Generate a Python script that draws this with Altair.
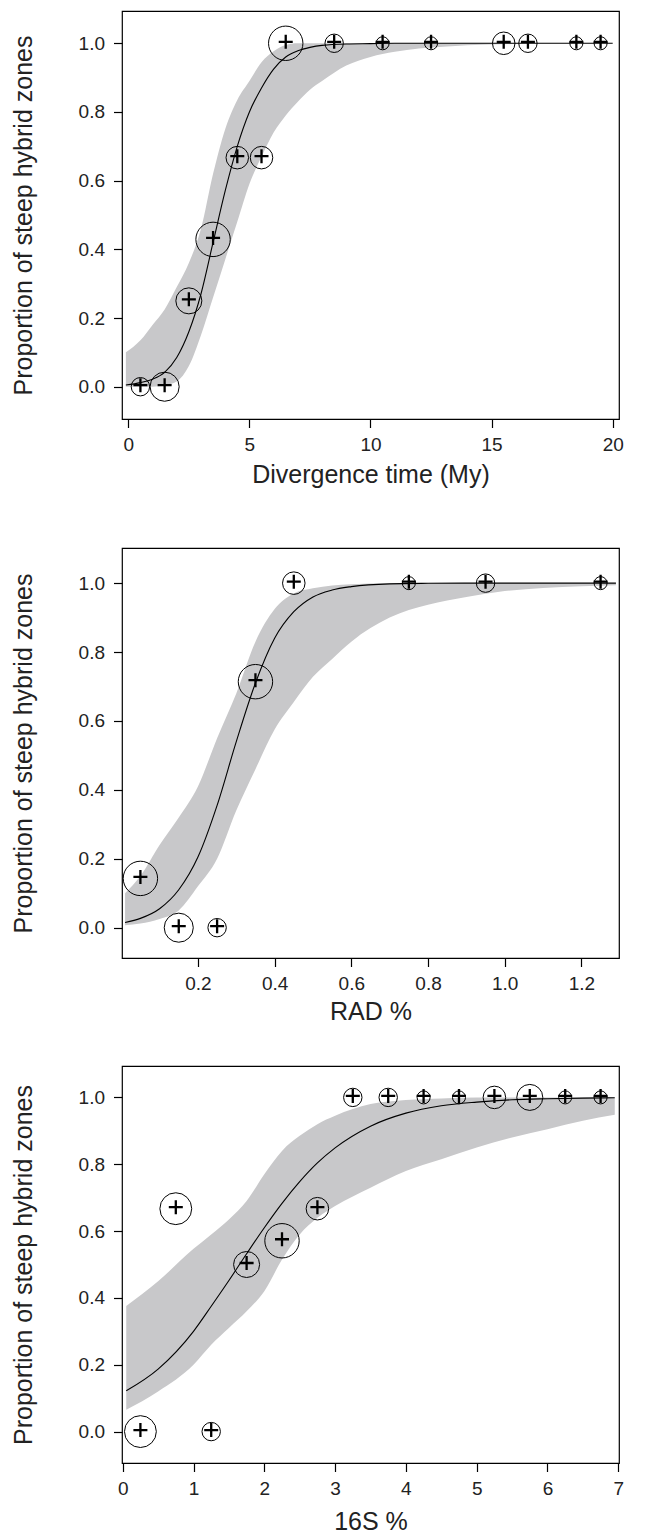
import altair as alt
import pandas as pd

# ---------------- Panel 1: divergence time ----------------
p1_x = [0.5, 1.5, 2.5, 3.5, 4.5, 5.5, 6.5, 8.5, 10.5, 12.5, 15.5, 16.5, 18.5, 19.5]
p1_y = [0.0, 0.0, 0.25, 0.429, 0.667, 0.667, 1.0, 1.0, 1.0, 1.0, 1.0, 1.0, 1.0, 1.0]
p1_n = [2, 5, 4, 7, 3, 3, 7, 2, 1, 1, 3, 2, 1, 1]

p1_gx = [-0.1, 0.5, 1.0, 1.5, 2.0, 2.5, 3.0, 3.5, 4.0, 4.5, 5.0, 5.5, 6.0, 6.5, 7.0,
         7.5, 8.0, 9.0, 10.0, 11.0, 12.0, 13.0, 14.0, 16.0, 18.0, 20.0]
p1_fit = [0.005, 0.012, 0.022, 0.042, 0.085, 0.16, 0.27, 0.42, 0.57, 0.70, 0.80, 0.87,
          0.925, 0.96, 0.978, 0.988, 0.994, 0.998, 0.999, 1.0, 1.0, 1.0, 1.0, 1.0, 1.0, 1.0]
p1_lo = [0.0, 0.0, 0.0, 0.004, 0.015, 0.06, 0.15, 0.26, 0.37, 0.48, 0.59, 0.67, 0.74,
         0.79, 0.83, 0.865, 0.89, 0.935, 0.96, 0.975, 0.985, 0.99, 0.994, 0.998, 1.0, 1.0]
p1_hi = [0.10, 0.135, 0.18, 0.225, 0.29, 0.36, 0.46, 0.62, 0.75, 0.835, 0.89, 0.945,
         0.977, 0.995, 1.0, 1.0, 1.0, 1.0, 1.0, 1.0, 1.0, 1.0, 1.0, 1.0, 1.0, 1.0]

# ---------------- Panel 2: RAD % ----------------
p2_x = [0.05, 0.15, 0.25, 0.35, 0.45, 0.75, 0.95, 1.25]
p2_y = [0.143, 0.0, 0.0, 0.714, 1.0, 1.0, 1.0, 1.0]
p2_n = [7, 5, 2, 7, 3, 1, 2, 1]

p2_gx = [0.01, 0.05, 0.1, 0.15, 0.2, 0.25, 0.3, 0.35, 0.4, 0.45, 0.5, 0.55, 0.6,
         0.7, 0.8, 0.9, 1.0, 1.1, 1.2, 1.29]
p2_fit = [0.015, 0.027, 0.055, 0.11, 0.205, 0.355, 0.54, 0.71, 0.84, 0.917, 0.96, 0.98,
          0.99, 0.998, 0.9995, 1.0, 1.0, 1.0, 1.0, 1.0]
p2_lo = [0.007, 0.012, 0.025, 0.05, 0.12, 0.2, 0.34, 0.46, 0.575, 0.655, 0.728, 0.78,
         0.83, 0.9, 0.937, 0.96, 0.977, 0.986, 0.991, 0.994]
p2_hi = [0.10, 0.15, 0.24, 0.32, 0.41, 0.55, 0.68, 0.83, 0.925, 0.97, 0.985, 0.993,
         0.997, 1.0, 1.0, 1.0, 1.0, 1.0, 1.0, 1.0]

# ---------------- Panel 3: 16S % ----------------
p3_x = [0.25, 0.75, 1.25, 1.75, 2.25, 2.75, 3.25, 3.75, 4.25, 4.75, 5.25, 5.75, 6.25, 6.75]
p3_y = [0.0, 0.667, 0.0, 0.5, 0.571, 0.667, 1.0, 1.0, 1.0, 1.0, 1.0, 1.0, 1.0, 1.0]
p3_n = [6, 6, 2, 4, 7, 3, 2, 2, 1, 1, 3, 4, 1, 1]

p3_gx = [0.05, 0.5, 1.0, 1.25, 1.5, 1.75, 2.0, 2.25, 2.5, 2.75, 3.0, 3.5, 4.0, 4.5,
         5.0, 5.5, 6.0, 6.5, 6.95]
p3_fit = [0.122, 0.187, 0.30, 0.375, 0.452, 0.532, 0.61, 0.683, 0.748, 0.804, 0.849,
          0.914, 0.953, 0.975, 0.986, 0.993, 0.996, 0.998, 0.999]
p3_lo = [0.065, 0.12, 0.2, 0.26, 0.31, 0.36, 0.42, 0.515, 0.59, 0.64, 0.675, 0.73,
         0.78, 0.815, 0.85, 0.88, 0.905, 0.93, 0.948]
p3_hi = [0.376, 0.45, 0.547, 0.59, 0.635, 0.69, 0.77, 0.84, 0.885, 0.92, 0.945, 0.98,
         0.992, 0.997, 1.0, 1.0, 1.0, 1.0, 1.0]

Y_TITLE = "Proportion of steep hybrid zones"
Y_TICKS = [0.0, 0.2, 0.4, 0.6, 0.8, 1.0]
FONT = "Liberation Sans"
W = 497
BAND = "#c8c8ca"
PLUS = "M-1,0H1M0,-1V1"


def panel(px, py, pn, gx, fit, lo, hi, xdom, ydom, xticks, xfmt, xtitle, h,
          xlabpad=8, xtitlepad=6):
    pts = pd.DataFrame({"x": px, "y": py, "n": pn})
    crv = pd.DataFrame({"x": gx, "fit": fit, "lo": lo, "hi": hi})
    xs = alt.Scale(domain=xdom, nice=False, zero=False)
    ys = alt.Scale(domain=ydom, nice=False, zero=False)
    xax = alt.Axis(values=xticks, format=xfmt, title=xtitle, labelPadding=xlabpad,
                   titlePadding=xtitlepad)
    yax = alt.Axis(values=Y_TICKS, format=".1f", title=Y_TITLE, titlePadding=42)

    band = alt.Chart(crv).mark_area(color=BAND, opacity=1, interpolate="monotone").encode(
        x=alt.X("x:Q", scale=xs, axis=xax),
        y=alt.Y("lo:Q", scale=ys, axis=yax),
        y2="hi:Q",
    )
    line = alt.Chart(crv).mark_line(color="black", strokeWidth=1.1,
                                    interpolate="monotone").encode(
        x=alt.X("x:Q", scale=xs), y=alt.Y("fit:Q", scale=ys)
    )
    circ = alt.Chart(pts).mark_point(shape="circle", filled=False, color="black",
                                     strokeWidth=1, opacity=1).encode(
        x=alt.X("x:Q", scale=xs),
        y=alt.Y("y:Q", scale=ys),
        size=alt.Size("n:Q", scale=alt.Scale(domain=[0, 7], range=[0, 1183], zero=True),
                      legend=None),
    )
    plus = alt.Chart(pts).mark_point(shape=PLUS, filled=False, color="black",
                                     strokeWidth=2.3, size=196, opacity=1,
                                     yOffset=-1.5).encode(
        x=alt.X("x:Q", scale=xs), y=alt.Y("y:Q", scale=ys)
    )
    return alt.layer(band, line, circ, plus).properties(width=W, height=h)


p1 = panel(p1_x, p1_y, p1_n, p1_gx, p1_fit, p1_lo, p1_hi, [-0.26, 20.26],
           [-0.094, 1.094], [0, 5, 10, 15, 20], "d", "Divergence time (My)", 408,
           xtitlepad=8)
p2 = panel(p2_x, p2_y, p2_n, p2_gx, p2_fit, p2_lo, p2_hi, [0.002, 1.298],
           [-0.088, 1.102], [0.2, 0.4, 0.6, 0.8, 1.0, 1.2], ".1f", "RAD %", 410)
p3 = panel(p3_x, p3_y, p3_n, p3_gx, p3_fit, p3_lo, p3_hi, [-0.01, 7.01],
           [-0.094, 1.094], [0, 1, 2, 3, 4, 5, 6, 7], "d", "16S %", 397,
           xtitlepad=11)

chart = alt.vconcat(
    alt.vconcat(p1, p2, spacing=58), p3, spacing=39
).properties(
    padding={"left": 2, "top": 2, "right": 2, "bottom": 2}
).configure_view(
    stroke="black", strokeWidth=1.2
).configure_axis(
    grid=False, domain=False, ticks=True, tickColor="black", tickSize=8.5, tickWidth=1.2,
    labelFont=FONT, labelFontSize=19, labelColor="#222", labelPadding=9,
    titleFont=FONT, titleFontSize=25, titleFontWeight="normal", titleColor="#222",
    titlePadding=14, labelFlush=False,
)

chart.save("out.html", embed_options={"renderer": "svg", "actions": False})
